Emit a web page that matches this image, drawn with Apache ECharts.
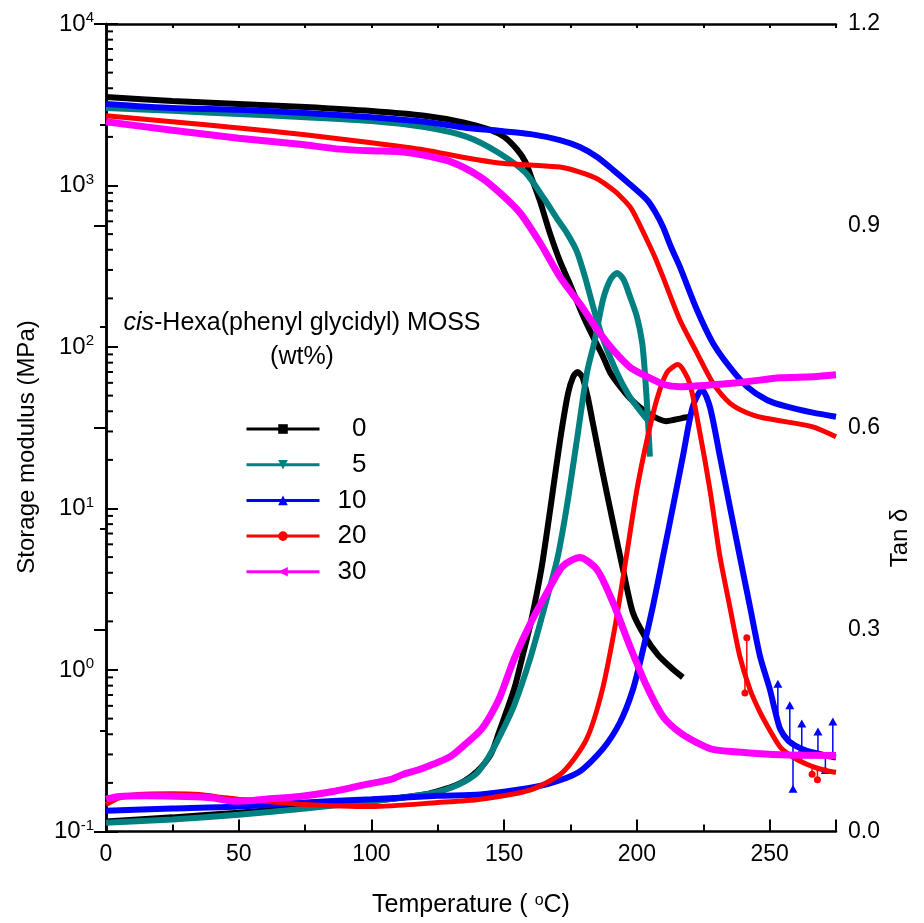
<!DOCTYPE html>
<html><head><meta charset="utf-8">
<script src="https://cdn.jsdelivr.net/npm/echarts@6/dist/echarts.min.js"></script>
<style>html,body{margin:0;padding:0;background:#fff}#c{width:924px;height:923px}</style>
</head><body><div id="c"></div>
<script>
const FONT = '"Liberation Sans", Arial, Helvetica, sans-serif';

// Legend categories (wt% of cis-Hexa(phenyl glycidyl) MOSS)
const categories = ['0', '5', '10', '20', '30'];
const colors = ['#000000', '#008080', '#0000ff', '#ff0000', '#ff00ff'];

// Storage modulus (MPa) vs temperature (°C)
const e0 = [[0,3530],[25,3340],[50,3200],[75,3060],[100,2890],[120,2700],[135,2450],[145,2200],[150,2000],[155,1660],[158,1400],[160,1150],[163.5,800],[167,520],[171,340],[175,240],[179,166],[183,120],[187,89],[190,69],[194,56],[198,47],[204,39],[211,34.7],[217,36.3],[220,37]];
const e5 = [[0,3020],[25,2900],[50,2770],[75,2650],[100,2510],[120,2300],[136,2000],[148,1590],[158,1200],[165,830],[170,620],[173.6,509],[177.4,390],[180.5,270],[183.4,180],[187,115],[192.5,69],[197,50],[200,42.7],[203,37],[205,34]];
const e10 = [[0,3200],[25,3020],[50,2940],[75,2810],[100,2650],[120,2480],[136,2270],[148,2180],[160,2080],[171,1910],[178.5,1730],[185,1500],[191,1250],[197,1030],[203.8,815],[206.8,690],[209.8,555],[213,410],[216.2,313],[222.6,170],[228.6,106],[235,75],[241.4,57],[249,47],[256.5,42.7],[266.3,39.2],[275,37]];
const e20 = [[0,2700],[25,2480],[50,2270],[75,2060],[100,1840],[120,1660],[136,1480],[148,1380],[160,1340],[171,1300],[178.5,1210],[185,1100],[191,940],[194,850],[197.4,738],[200,620],[203.8,460],[206.8,360],[209.8,272],[216.2,147],[222.6,92],[228.6,60],[235,45],[241.4,39.2],[247.5,36.5],[256.5,34.4],[266.3,32],[275,27.8]];
const e30 = [[0,2480],[25,2200],[50,1960],[73,1800],[88,1680],[100,1640],[111,1620],[118,1560],[130,1400],[141,1130],[148.4,900],[156,676],[163.5,442],[171,272],[178.5,185],[186,122],[191,96],[197.4,75],[203.8,65.5],[210.5,58.4],[216.2,56.8],[228.6,58.4],[241.4,61],[253.9,64.4],[266.3,65.5],[275,67.3]];

// Tan delta vs temperature (°C)
const t0 = [[0,0.015],[25,0.021],[50,0.028],[75,0.036],[100,0.045],[120,0.055],[125,0.06],[130,0.066],[135,0.075],[140,0.09],[145,0.115],[148,0.147],[151,0.18],[154,0.215],[157,0.262],[160,0.31],[164,0.39],[167.5,0.483],[171,0.58],[174,0.65],[176,0.676],[177.6,0.683],[179.5,0.675],[181.5,0.645],[183.4,0.607],[187,0.535],[191,0.459],[195,0.385],[198.5,0.325],[203,0.29],[208,0.262],[213,0.243],[217.3,0.229]];
const t5 = [[0,0.013],[25,0.018],[50,0.025],[75,0.034],[100,0.045],[120,0.055],[125,0.059],[130,0.065],[135,0.074],[140,0.088],[144,0.11],[147.5,0.135],[153.6,0.186],[160,0.26],[166,0.345],[170,0.405],[173.6,0.483],[177.4,0.582],[181.2,0.682],[184.2,0.731],[187.2,0.79],[190,0.82],[192.5,0.83],[195,0.82],[197.4,0.795],[200,0.765],[202,0.726],[203,0.682],[204.1,0.616],[204.9,0.557]];
const t10 = [[0,0.031],[25,0.034],[50,0.037],[75,0.043],[100,0.048],[125,0.053],[141,0.055],[155,0.062],[166,0.07],[178,0.088],[187,0.122],[193.6,0.162],[198.5,0.211],[202.3,0.27],[206,0.334],[209.8,0.408],[213.6,0.483],[217.3,0.557],[221,0.631],[224.5,0.657],[227.5,0.631],[231.3,0.557],[235,0.483],[238.8,0.408],[242.6,0.334],[246.4,0.26],[250.1,0.211],[252,0.18],[254,0.152],[257,0.135],[260,0.127],[264,0.12],[268,0.116],[272,0.112],[275,0.11]];
const t20 = [[0,0.04],[5,0.05],[12,0.055],[25,0.056],[35,0.055],[45,0.05],[50,0.048],[60,0.045],[75,0.04],[100,0.037],[125,0.043],[141,0.048],[160,0.062],[172,0.088],[181,0.137],[187,0.211],[192,0.31],[196,0.408],[200,0.508],[203.8,0.582],[207.5,0.642],[211.3,0.682],[215.4,0.694],[219.8,0.667],[223.7,0.593],[227.5,0.508],[231.3,0.408],[235,0.334],[238.8,0.26],[242.6,0.211],[246.4,0.177],[250,0.151],[253.9,0.126],[257,0.115],[260.3,0.107],[264,0.1],[268,0.094],[272,0.09],[275,0.088]];
const t30 = [[0,0.048],[5,0.052],[15,0.053],[30,0.052],[40,0.05],[48,0.045],[55,0.046],[60,0.048],[73,0.052],[85,0.059],[98,0.07],[107,0.077],[112,0.085],[118,0.092],[129.6,0.111],[136,0.132],[141,0.15],[144.6,0.171],[148.4,0.2],[153.6,0.255],[160,0.31],[166.1,0.355],[172,0.394],[178.5,0.407],[185,0.389],[191,0.34],[197.4,0.275],[203.8,0.215],[209.8,0.171],[216.2,0.147],[222.6,0.132],[228.6,0.122],[241.4,0.117],[253.9,0.114],[275,0.113]];

// Noisy tail readings (error-bar spikes: temperature, tip, base) of the 10 and 20 wt% tan delta curves
const t10Spikes = [[253.1,0.218,0.16],[257.6,0.186,0.136],[258.8,0.062,0.132],[262.1,0.159,0.124],[268.2,0.147,0.116],[273.8,0.162,0.111],[271,0.09,0.113]];
const t20Spikes = [[241.4,0.288,0.225],[240.7,0.206,0.24],[262,0.117,0.103],[268,0.077,0.094],[266,0.085,0.096]];

// Minor tick positions of the log axis
const logMinorTicks = [0.2,0.3,0.4,0.5,0.6,0.7,0.8,0.9,2,3,4,5,6,7,8,9,20,30,40,50,60,70,80,90,200,300,400,500,600,700,800,900,2000,3000,4000,5000,6000,7000,8000,9000];

const storage = [e0, e5, e10, e20, e30];
const tan = [t0, t5, t10, t20, t30];
const symbols = ['rect', 'triangle', 'triangle', 'circle', 'triangle'];
const rotations = [0, 180, 0, 0, 90];
const widths = [6, 6, 6, 5, 7];

const series = [];
categories.forEach((c, i) => {
  [[storage[i], 0], [tan[i], 1]].forEach(([d, yi]) => {
    series.push({
      type: 'line', name: c, data: d, xAxisIndex: 0, yAxisIndex: yi,
      symbol: symbols[i], symbolRotate: rotations[i], symbolSize: 9, showSymbol: false,
      smooth: 0.25,
      lineStyle: { color: colors[i], width: widths[i] },
      itemStyle: { color: colors[i] },
      emphasis: { disabled: true }, animation: false
    });
  });
});
// thin spike marks in the noisy tails
[[t10Spikes, 2], [t20Spikes, 3]].forEach(([d, i]) => {
  series.push({
    type: 'custom', name: 'spikes' + i, xAxisIndex: 0, yAxisIndex: 1, silent: true,
    data: d,
    renderItem: (params, api) => {
      const top = api.coord([api.value(0), api.value(1)]);
      const base = api.coord([api.value(0), api.value(2)]);
      return { type: 'group', children: [
        { type: 'line', shape: { x1: top[0], y1: top[1], x2: base[0], y2: base[1] }, style: { stroke: colors[i], lineWidth: 1.5 } },
        { type: i === 2 ? 'polygon' : 'circle',
          shape: i === 2 ? { points: [[top[0], top[1] - 5], [top[0] - 4.5, top[1] + 3], [top[0] + 4.5, top[1] + 3]] } : { cx: top[0], cy: top[1], r: 3.5 },
          style: { fill: colors[i] } }
      ] };
    },
    animation: false
  });
});
series.push({
  type: 'custom', name: 'minor', xAxisIndex: 0, yAxisIndex: 0, silent: true, clip: false,
  data: logMinorTicks.map(v => [0, v]),
  renderItem: (params, api) => {
    const p = api.coord([0, api.value(1)]);
    return { type: 'line', shape: { x1: p[0], y1: p[1], x2: p[0] + 7, y2: p[1] },
      style: { stroke: '#000', lineWidth: 2 } };
  },
  animation: false
});

const axisLineStyle = { color: '#000', width: 2.5 };
const tickStyle = { color: '#000', width: 2 };
const labelBase = { color: '#000', fontFamily: FONT, fontSize: 23 };

const chart = echarts.init(document.getElementById('c'), null, { renderer: 'canvas' });
chart.setOption({
  backgroundColor: '#fff',
  animation: false,
  grid: { left: 106, right: 88, top: 24, bottom: 91, containLabel: false },
  legend: {
    data: categories, orient: 'vertical', left: 240, top: 411,
    itemWidth: 73, itemHeight: 12, itemGap: 9.7,
    lineStyle: { width: 3 },
    formatter: n => '{a|' + n + '}',
    textStyle: { color: '#000', fontFamily: FONT, fontSize: 26,
      rich: { a: { width: 42, align: 'right', fontSize: 26, fontFamily: FONT, color: '#000', lineHeight: 26 } } },
    selectedMode: false
  },
  xAxis: [{
    type: 'value', min: 0, max: 275, interval: 50, position: 'bottom',
    axisLine: { lineStyle: axisLineStyle },
    axisTick: { inside: true, length: 12, lineStyle: tickStyle },
    minorTick: { show: true, splitNumber: 2, length: 7, lineStyle: tickStyle },
    axisLabel: Object.assign({ margin: 12, showMaxLabel: false }, labelBase),
    splitLine: { show: false },
    name: 'Temperature ( {s|o}C)', nameLocation: 'middle', nameGap: 61,
    nameTextStyle: { color: '#000', fontFamily: FONT, fontSize: 25,
      rich: { s: { fontSize: 16, fontFamily: FONT, color: '#000', verticalAlign: 'top', padding: [0, 0, 10, 0] } } }
  }, {
    type: 'value', min: 0, max: 275, interval: 25, position: 'top',
    axisLine: { lineStyle: axisLineStyle },
    axisTick: { inside: true, length: 4, lineStyle: tickStyle },
    axisLabel: { show: false }, splitLine: { show: false }
  }],
  yAxis: [{
    type: 'log', logBase: 10, min: 0.1, max: 10000, position: 'left',
    axisLine: { show: true, lineStyle: axisLineStyle },
    axisTick: { show: true, inside: true, length: 12, lineStyle: tickStyle },
    axisLabel: {
      margin: 12, color: '#000',
      formatter: v => '{b|10}{s|' + Math.round(Math.log10(v)) + '}',
      rich: {
        b: { fontSize: 24, fontFamily: FONT, color: '#000' },
        s: { fontSize: 15, fontFamily: FONT, color: '#000', verticalAlign: 'top', padding: [0, 0, 12, 0] }
      }
    },
    splitLine: { show: false }
  }, {
    type: 'value', min: 0, max: 1.2, interval: 0.3, position: 'right',
    axisLine: { show: true, lineStyle: axisLineStyle },
    axisTick: { show: true, inside: true, length: 12, lineStyle: tickStyle },
    minorTick: { show: true, splitNumber: 2, length: 6, lineStyle: tickStyle },
    axisLabel: Object.assign({ margin: 12, formatter: v => v.toFixed(1) }, labelBase),
    splitLine: { show: false }
  }],
  graphic: [
    { type: 'text', x: 27, y: 447, rotation: Math.PI / 2,
      style: { text: 'Storage modulus (MPa)', font: '24px ' + FONT, fill: '#000', align: 'center', verticalAlign: 'middle' } },
    { type: 'text', x: 900, y: 538, rotation: Math.PI / 2,
      style: { text: 'Tan δ', font: '24px ' + FONT, fill: '#000', align: 'center', verticalAlign: 'middle' } },
    { type: 'text', x: 302, y: 323,
      style: { text: '{i|cis}-Hexa(phenyl glycidyl) MOSS', align: 'center', verticalAlign: 'middle',
        font: '25px ' + FONT, fill: '#000',
        rich: { i: { fontStyle: 'italic', fontSize: 25, fontFamily: FONT, fill: '#000' } } } },
    { type: 'text', x: 302, y: 357,
      style: { text: '(wt%)', font: '25px ' + FONT, fill: '#000', align: 'center', verticalAlign: 'middle' } }
  ],
  series: series
});
</script></body></html>
